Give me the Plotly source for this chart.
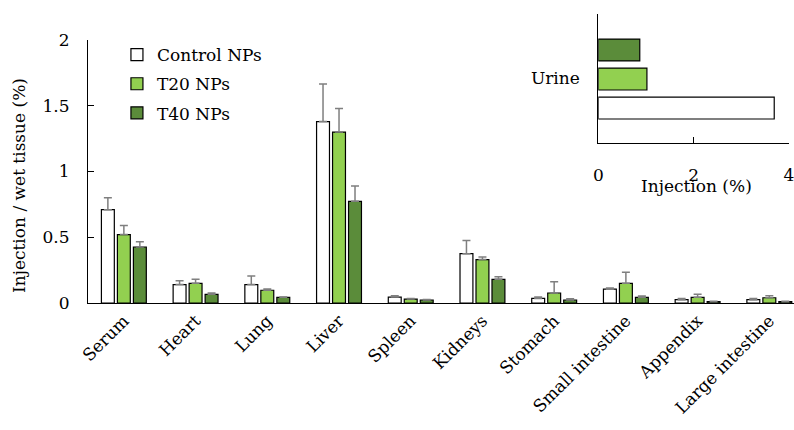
import plotly.graph_objects as go

categories = ["Serum", "Heart", "Lung", "Liver", "Spleen", "Kidneys",
              "Stomach", "Small intestine", "Appendix", "Large intestine"]
series_names = ["Control NPs", "T20 NPs", "T40 NPs"]
control = [0.71, 0.14, 0.14, 1.38, 0.045, 0.375, 0.035, 0.105, 0.025, 0.025]
control_err = [0.09, 0.03, 0.065, 0.285, 0.01, 0.10, 0.01, 0.01, 0.01, 0.01]
t20 = [0.52, 0.15, 0.097, 1.30, 0.03, 0.33, 0.076, 0.15, 0.043, 0.04]
t20_err = [0.07, 0.03, 0.01, 0.18, 0.005, 0.02, 0.086, 0.083, 0.023, 0.016]
t40 = [0.426, 0.066, 0.043, 0.773, 0.023, 0.18, 0.023, 0.043, 0.01, 0.01]
t40_err = [0.04, 0.01, 0.003, 0.117, 0.004, 0.02, 0.01, 0.01, 0.003, 0.003]

inset_category = ["Urine"]
urine_control = [3.69]
urine_t20 = [1.02]
urine_t40 = [0.87]

y_ticks = [0, 0.5, 1, 1.5, 2]
y_ticktext = ["0", "0.5", "1", "1.5", "2"]
inset_ticks = [0, 2, 4]

colors = ["#ffffff", "#92D050", "#5B8C3A"]
FONT = "DejaVu Serif, Liberation Serif, serif"
FS = 17

fig = go.Figure()

main_vals = [control, t20, t40]
main_errs = [control_err, t20_err, t40_err]
main_offsets = [-0.313, -0.09, 0.133]
bw = 0.18
for name, vals, errs, col, off in zip(series_names, main_vals, main_errs, colors, main_offsets):
    fig.add_trace(go.Bar(
        x=categories, y=vals, name=name, width=bw, offset=off,
        marker=dict(color=col, line=dict(color="#000000", width=1.2)),
        error_y=dict(type="data", array=errs, arrayminus=[0]*len(errs), symmetric=False,
                     color="#7f7f7f", thickness=1.5, width=4),
        legendgroup=name, xaxis="x", yaxis="y",
    ))

inset_vals = [urine_control, urine_t20, urine_t40]
inset_offsets = [-0.314, -0.089, 0.136]
for name, vals, col, off in zip(series_names, inset_vals, colors, inset_offsets):
    fig.add_trace(go.Bar(
        y=inset_category, x=vals, orientation="h", name=name, width=0.17, offset=off,
        marker=dict(color=col, line=dict(color="#000000", width=1.2)),
        showlegend=False, legendgroup=name, xaxis="x2", yaxis="y2",
    ))

fig.update_layout(
    width=794, height=430,
    margin=dict(l=88, r=0, t=14, b=127, autoexpand=False),
    paper_bgcolor="white", plot_bgcolor="white",
    barmode="overlay",
    font=dict(family=FONT, size=FS, color="#000000"),
    showlegend=True,
    legend=dict(x=0.041, y=0.92, xanchor="left", yanchor="top",
                bgcolor="rgba(0,0,0,0)", font=dict(size=FS, family=FONT),
                itemwidth=30, tracegroupgap=4, traceorder="grouped"),
    xaxis=dict(domain=[0, 1], range=[-0.5, 9.344], showline=True, linecolor="#000000",
               linewidth=1.2, ticks="", tickangle=-45, showgrid=False, zeroline=False,
               automargin=False, tickfont=dict(size=FS, family=FONT)),
    yaxis=dict(domain=[0, 0.910], range=[0, 2], tickvals=y_ticks, ticktext=y_ticktext,
               showline=True, linecolor="#000000", linewidth=1.2, ticks="inside",
               ticklen=6, tickcolor="#000000", showgrid=False, zeroline=False,
               automargin=False, ticklabelstandoff=14, tickfont=dict(size=FS, family=FONT)),
    xaxis2=dict(domain=[0.7228, 0.993], range=[0, 4.001], anchor="y2", tickvals=inset_ticks,
                showline=True, linecolor="#000000", linewidth=1.2, ticks="inside",
                ticklen=6, tickcolor="#000000", showgrid=False, zeroline=False,
                ticklabeloverflow="allow",
                automargin=False, ticklabelstandoff=16, tickfont=dict(size=FS, family=FONT)),
    yaxis2=dict(domain=[0.5536, 1.0], range=[-0.5, 0.5], anchor="x2", type="category",
                showline=True, linecolor="#000000", linewidth=1.2, ticks="",
                showgrid=False, zeroline=False, ticklabelstandoff=14,
                automargin=False, tickfont=dict(size=FS, family=FONT)),
    annotations=[
        dict(text="Injection / wet tissue (%)", textangle=-90, xref="paper", yref="paper",
             x=-0.0977, y=0.405, xanchor="center", yanchor="middle", showarrow=False,
             font=dict(size=FS, family=FONT)),
        dict(text="Injection (%)", xref="x2", yref="paper", x=2.05, y=(303 - 186) / 289,
             xanchor="center", yanchor="middle", showarrow=False,
             font=dict(size=FS, family=FONT)),
    ],
)

fig.write_html("out.html", config={"displayModeBar": False},
               post_script="document.body.style.margin='0px';document.body.style.overflow='hidden';")
